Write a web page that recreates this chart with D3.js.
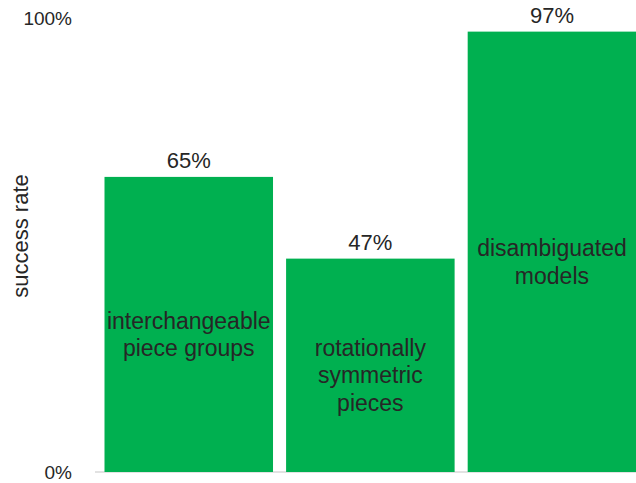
<!DOCTYPE html>
<html lang="en">
<head>
    <meta charset="UTF-8">
    <title>Success rate</title>
    <script src="https://d3js.org/d3.v7.min.js"></script>
    <style>
        body { margin: 0; background: #fff; }
        text { font-family: "Liberation Sans", Arial, sans-serif; fill: #262626; }
    </style>
</head>
<body>
    <svg id="chart" width="636" height="483"></svg>
    <script>
        // data
        const categories = [
            "interchangeable\npiece groups",
            "rotationally\nsymmetric\npieces",
            "disambiguated\nmodels"
        ];
        const successRate = [0.65, 0.47, 0.97];
        const yTicks = [0, 1];

        const svg = d3.select("#chart");

        const x = d3.scaleBand()
            .domain(categories)
            .range([104.5, 636.2])
            .paddingInner(0.072);

        const y = d3.scaleLinear()
            .domain([0, 1])
            .range([472, 18]);

        // baseline
        svg.append("line")
            .attr("x1", 95).attr("x2", 636)
            .attr("y1", y(0)).attr("y2", y(0))
            .attr("stroke", "#d9d9d9")
            .attr("stroke-width", 1.5);

        // y axis labels
        svg.selectAll(".tick-label")
            .data(yTicks)
            .enter().append("text")
            .attr("class", "tick-label")
            .attr("x", 72)
            .attr("y", d => y(d))
            .attr("text-anchor", "end")
            .attr("dominant-baseline", "central")
            .style("font-size", "19px")
            .text(d3.format(".0%"));

        svg.append("text")
            .attr("transform", `translate(28, 236) rotate(-90)`)
            .attr("text-anchor", "middle")
            .style("font-size", "22px")
            .text("success rate");

        const data = categories.map((c, i) => ({ c, v: successRate[i] }));

        // bars
        svg.selectAll(".bar")
            .data(data)
            .enter().append("rect")
            .attr("class", "bar")
            .attr("x", d => x(d.c))
            .attr("width", x.bandwidth())
            .attr("y", d => y(d.v))
            .attr("height", d => y(0) - y(d.v))
            .attr("fill", "#00b050");

        // value labels
        svg.selectAll(".value")
            .data(data)
            .enter().append("text")
            .attr("class", "value")
            .attr("x", d => x(d.c) + x.bandwidth() / 2)
            .attr("y", d => y(d.v) - 9)
            .attr("text-anchor", "middle")
            .style("font-size", "22px")
            .text(d => d3.format(".0%")(d.v));

        // category labels inside the bars
        const lineH = 27.5;
        const cat = svg.selectAll(".cat")
            .data(data)
            .enter().append("text")
            .attr("class", "cat")
            .attr("text-anchor", "middle")
            .style("font-size", "23px");

        cat.each(function (d) {
            const lines = d.c.split("\n");
            const cx = x(d.c) + x.bandwidth() / 2;
            const mid = (y(d.v) + y(0)) / 2 + 10;
            const first = mid - (lines.length - 1) / 2 * lineH + 8;
            d3.select(this).selectAll("tspan")
                .data(lines)
                .enter().append("tspan")
                .attr("x", cx)
                .attr("y", (l, i) => first + i * lineH)
                .text(l => l);
        });
    </script>
</body>
</html>
